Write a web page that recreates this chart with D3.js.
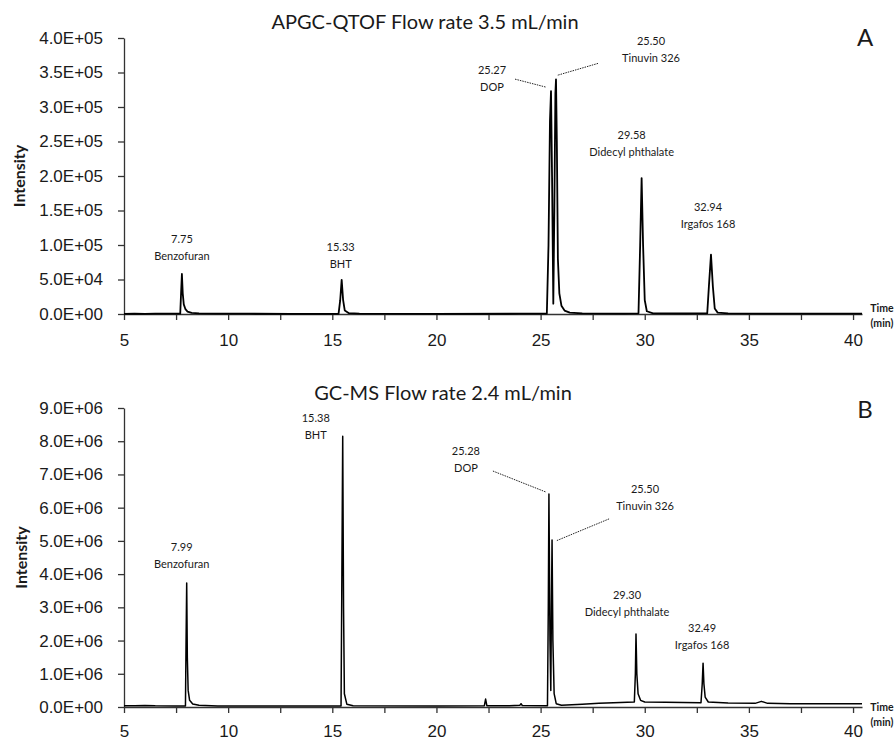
<!DOCTYPE html>
<html>
<head>
<meta charset="utf-8">
<script src="https://cdn.jsdelivr.net/npm/d3@7"></script>
<style>
  body { margin: 0; background: #fff; }
  svg { display: block; font-family: Lato, "Open Sans", sans-serif; }
</style>
</head>
<body>
<div id="chart"></div>
<script>
// chromatogram A (APGC-QTOF), [time min, intensity]
var traceA = [
  [5.0, 300], [5.5, 500], [6.0, 300], [6.5, 600], [7.0, 400], [7.5, 400], [7.70, 500],
  [7.74, 30000], [7.78, 58000], [7.82, 30000], [7.87, 14000], [7.95, 7000], [8.05, 3500],
  [8.25, 1500], [8.6, 800], [9.5, 500], [11, 400], [13, 300], [15.3, 300],
  [15.38, 20000], [15.45, 49500], [15.52, 20000], [15.6, 5000], [15.8, 1200], [16.3, 400],
  [20, 300], [24, 400], [25.3, 600], [25.38, 100000], [25.45, 280000], [25.5, 323000],
  [25.55, 200000], [25.61, 15000], [25.66, 150000], [25.71, 320000], [25.74, 340000],
  [25.78, 250000], [25.83, 80000], [25.9, 30000], [26.0, 12000], [26.15, 5000], [26.4, 2000],
  [27, 800], [29, 600], [29.7, 1000], [29.78, 100000], [29.85, 197000], [29.92, 100000],
  [30.0, 20000], [30.1, 4000], [30.4, 1000], [32, 700], [33.0, 1000], [33.08, 40000],
  [33.18, 86000], [33.27, 40000], [33.36, 8000], [33.5, 2000], [34, 800], [37, 500], [40.43, 500]
];

// chromatogram B (GC-MS), [time min, intensity]
var traceB = [
  [5.0, 35000], [5.5, 40000], [6.0, 45000], [6.5, 35000], [7.5, 30000], [7.95, 30000],
  [7.98, 2000000], [8.01, 3730000], [8.04, 1500000], [8.08, 500000], [8.15, 200000],
  [8.3, 90000], [8.6, 50000], [9.5, 30000], [12, 30000], [15.42, 30000], [15.46, 4000000],
  [15.5, 8150000], [15.54, 3000000], [15.58, 400000], [15.7, 80000], [16, 40000], [20, 30000],
  [22.3, 40000], [22.36, 240000], [22.42, 40000], [23.5, 40000], [24.0, 50000], [24.06, 100000],
  [24.12, 45000], [25.33, 40000], [25.37, 3000000], [25.4, 6410000], [25.45, 2000000],
  [25.49, 500000], [25.52, 3000000], [25.55, 5030000], [25.59, 2000000], [25.65, 400000],
  [25.75, 100000], [26, 50000], [27, 80000], [27.8, 110000], [28.5, 130000], [29.5, 150000],
  [29.55, 1000000], [29.58, 2200000], [29.62, 1000000], [29.68, 400000], [29.8, 200000],
  [30, 150000], [31, 140000], [32.7, 130000], [32.76, 700000], [32.8, 1320000], [32.84, 700000],
  [32.9, 300000], [33.05, 150000], [34, 120000], [35.3, 110000], [35.6, 170000], [35.9, 110000],
  [37, 100000], [40.43, 100000]
];

// peak annotations: retention time text, compound, apex [time, intensity]
var peaksA = [
  { rt: "7.75", name: "Benzofuran", t: 7.78, v: 58000 },
  { rt: "15.33", name: "BHT", t: 15.45, v: 49500 },
  { rt: "25.27", name: "DOP", t: 25.5, v: 323000 },
  { rt: "25.50", name: "Tinuvin 326", t: 25.74, v: 340000 },
  { rt: "29.58", name: "Didecyl phthalate", t: 29.85, v: 197000 },
  { rt: "32.94", name: "Irgafos 168", t: 33.18, v: 86000 }
];
var peaksB = [
  { rt: "7.99", name: "Benzofuran", t: 8.01, v: 3730000 },
  { rt: "15.38", name: "BHT", t: 15.5, v: 8150000 },
  { rt: "25.28", name: "DOP", t: 25.4, v: 6410000 },
  { rt: "25.50", name: "Tinuvin 326", t: 25.55, v: 5030000 },
  { rt: "29.30", name: "Didecyl phthalate", t: 29.58, v: 2200000 },
  { rt: "32.49", name: "Irgafos 168", t: 32.8, v: 1320000 }
];

var xTicks = [5, 7.5, 10, 12.5, 15, 17.5, 20, 22.5, 25, 27.5, 30, 32.5, 35, 37.5, 40];
var yTicksA = [0, 50000, 100000, 150000, 200000, 250000, 300000, 350000, 400000];
var yTicksB = [0, 1e6, 2e6, 3e6, 4e6, 5e6, 6e6, 7e6, 8e6, 9e6];

// label placement relative to the apex (layout only): [dx, dy] of the rt line, optional leader
var placeA = [
  { dx: 0, dy: -35 },
  { dx: -1, dy: -33 },
  { dx: -59, dy: -21, lead: [-36, -12, -5, -4] },
  { dx: 95, dy: -38, lead: [42, -16, 1, -4] },
  { dx: -10, dy: -43 },
  { dx: -3, dy: -48 }
];
var placeB = [
  { dx: -5, dy: -36 },
  { dx: -27, dy: -18 },
  { dx: -83, dy: -43, lead: [-56, -23, -3, -2] },
  { dx: 93, dy: -51, lead: [57, -21, 4, 1] },
  { dx: -9, dy: -39 },
  { dx: -1, dy: -35 }
];

var width = 895;
var height = 740;
var ink = "#1a1a1a";

var svg = d3.select("#chart")
  .append("svg")
  .attr("width", width)
  .attr("height", height);

function sci(v) {
  if (v === 0) return "0.0E+00";
  var e = Math.floor(Math.log10(v) + 1e-9);
  var m = v / Math.pow(10, e);
  return m.toFixed(1) + "E+" + String(e).padStart(2, "0");
}

function panel(opt) {
  var x = d3.scaleLinear().domain([5, 40.43]).range([124, 862]);
  var y = d3.scaleLinear().domain([0, opt.ymax]).range([opt.bottom, opt.top]);
  var g = svg.append("g");

  // y axis
  var ya = g.append("g")
    .attr("transform", "translate(124,0)")
    .call(d3.axisLeft(y).tickValues(opt.yTicks).tickSize(6).tickSizeOuter(0).tickPadding(15).tickFormat(sci));
  ya.selectAll("text").style("font-size", "17px").attr("fill", ink);

  // x axis
  var xa = g.append("g")
    .attr("transform", "translate(0," + opt.bottom + ")")
    .call(d3.axisBottom(x).tickValues(xTicks).tickSize(6).tickSizeOuter(0)
      .tickFormat(function (d) { return d % 5 === 0 ? d : ""; }));
  xa.selectAll("text").style("font-size", "17px").attr("fill", ink).attr("y", opt.xlab);

  g.selectAll(".domain, .tick line").attr("stroke", "#333").attr("stroke-width", 1.3);

  // trace
  var line = d3.line()
    .x(function (d) { return x(d[0]); })
    .y(function (d) { return y(d[1]); });
  g.append("path")
    .datum(opt.trace)
    .attr("d", line)
    .attr("fill", "none")
    .attr("stroke", "#000")
    .attr("stroke-width", opt.lw)
    .attr("stroke-linejoin", "round");

  // annotations
  opt.peaks.forEach(function (p, i) {
    var pl = opt.place[i];
    var px = x(p.t), py = y(p.v);
    var lx = px + pl.dx, ly = py + pl.dy;
    g.append("text").attr("x", lx).attr("y", ly).attr("dy", "0.35em")
      .attr("text-anchor", "middle").style("font-size", "11px").attr("fill", ink).text(p.rt);
    g.append("text").attr("x", lx).attr("y", ly + 17).attr("dy", "0.35em")
      .attr("text-anchor", "middle").style("font-size", "11px").attr("fill", ink).text(p.name);
    if (pl.lead) {
      g.append("line")
        .attr("x1", px + pl.lead[0]).attr("y1", py + pl.lead[1])
        .attr("x2", px + pl.lead[2]).attr("y2", py + pl.lead[3])
        .attr("stroke", "#222").attr("stroke-width", 1)
        .attr("stroke-dasharray", "1.5,1");
    }
  });

  // titles and axis names
  g.append("text").attr("x", opt.titleX).attr("y", opt.titleY).attr("dy", "0.35em")
    .attr("text-anchor", "middle").style("font-size", "20px").attr("fill", ink).text(opt.title);
  g.append("text").attr("x", 865).attr("y", opt.letterY).attr("dy", "0.35em")
    .attr("text-anchor", "middle").style("font-size", "24px").attr("fill", ink).text(opt.letter);
  g.append("text")
    .attr("transform", "translate(" + opt.ylabX + "," + (opt.top + opt.bottom) / 2 + ") rotate(-90)")
    .attr("dy", "0.35em").attr("text-anchor", "middle")
    .style("font-size", "16px").style("font-weight", "bold").attr("fill", ink).text("Intensity");
  g.append("text").attr("x", 882).attr("y", opt.timeY).attr("dy", "0.35em")
    .attr("text-anchor", "middle").style("font-size", "10.5px").style("font-weight", "bold")
    .attr("fill", ink).text("Time");
  g.append("text").attr("x", 882).attr("y", opt.timeY + 15).attr("dy", "0.35em")
    .attr("text-anchor", "middle").style("font-size", "10.5px").style("font-weight", "bold")
    .attr("fill", ink).text("(min)");
}

panel({
  trace: traceA, peaks: peaksA, place: placeA, yTicks: yTicksA, ymax: 400000, lw: 1.8,
  top: 38, bottom: 314, xlab: 20, title: "APGC-QTOF Flow rate 3.5 mL/min",
  titleX: 425, titleY: 22, letter: "A", letterY: 38, ylabX: 19, timeY: 308
});
panel({
  trace: traceB, peaks: peaksB, place: placeB, yTicks: yTicksB, ymax: 9000000, lw: 1.5,
  top: 408, bottom: 707, xlab: 18, title: "GC-MS Flow rate 2.4 mL/min",
  titleX: 443, titleY: 393, letter: "B", letterY: 410, ylabX: 21, timeY: 707
});
</script>
</body>
</html>
